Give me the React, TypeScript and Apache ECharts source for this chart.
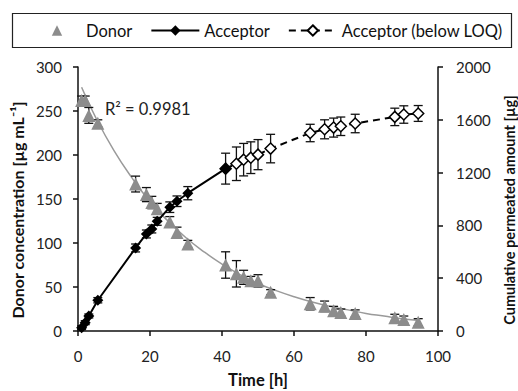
import React, { useEffect, useRef } from "react";
import * as echarts from "echarts";

const times = [1, 2, 3, 5.5, 16, 19, 20.5, 22, 25.5, 27.5, 30.5, 41, 44, 46, 48, 50, 53.5, 64.5, 68.5, 71, 73, 77, 88, 90.5, 94.5];
const donorValues = [262, 262, 245, 236, 167, 155, 146, 139, 124, 112, 99, 75, 65, 61, 57, 57, 44, 31, 28, 23, 21, 20, 15, 13, 10];
const donorErrors = [5, 5, 9, 4, 9, 8, 7, 6, 6, 6, 4, 15, 15, 8, 5, 7, 3, 7, 6, 5, 4, 4, 4, 4, 4];

const acceptorTimes = [1, 2, 3, 5.5, 16, 19, 20.5, 22, 25.5, 27.5, 30.5, 41];
const acceptorValues = [25, 63, 114, 233, 629, 735, 773, 831, 938, 983, 1044, 1230];
const acceptorErrors = [15, 15, 15, 20, 30, 30, 30, 30, 40, 40, 50, 117];

const loqTimes = [41, 44, 46, 48, 50, 53.5, 64.5, 68.5, 71, 73, 77, 88, 90.5, 94.5];
const loqValues = [1230, 1267, 1298, 1313, 1336, 1382, 1500, 1528, 1541, 1551, 1572, 1622, 1640, 1648];
const loqErrors = [0, 127, 123, 120, 114, 108, 66, 72, 72, 70, 70, 66, 66, 60];

const fitTimes = [1, 5, 10, 15, 20, 25, 30, 35, 40, 45, 50, 55, 60, 65, 70, 75, 80, 85, 90, 95];
const fitValues = [277, 242, 205, 174, 147, 125, 106, 90, 76, 64, 54, 46, 39, 33, 28, 24, 20, 17, 14, 12];

const legendNames = ["Donor", "Acceptor", "Acceptor (below LOQ)"];
const r2Label = "R² = 0.9981";

const FONT = "Lato";

function errorBar(params: any, api: any) {
  const x = api.value(0);
  const lo = api.value(1);
  const hi = api.value(2);
  if (hi - lo <= 0) return null;
  const p1 = api.coord([x, lo]);
  const p2 = api.coord([x, hi]);
  const hw = 4.5;
  const st = { stroke: "#111", lineWidth: 1.3 };
  return {
    type: "group",
    children: [
      { type: "line", shape: { x1: p1[0], y1: p1[1], x2: p2[0], y2: p2[1] }, style: st },
      { type: "line", shape: { x1: p1[0] - hw, y1: p1[1], x2: p1[0] + hw, y2: p1[1] }, style: st },
      { type: "line", shape: { x1: p2[0] - hw, y1: p2[1], x2: p2[0] + hw, y2: p2[1] }, style: st },
    ],
  };
}

export default function App() {
  const ref = useRef<HTMLDivElement>(null);
  useEffect(() => {
    if (!ref.current) return;
    const chart = echarts.init(ref.current, null, { renderer: "svg" });
    const axisLine = { show: true, lineStyle: { color: "#111", width: 1.5 } };
    const axisTick = { show: true, inside: false, length: 5, lineStyle: { color: "#111", width: 1.5 } };
    const axisLabel = { color: "#222", fontSize: 15, fontFamily: FONT, formatter: (v: number) => String(v) };
    const nameStyle = { color: "#111", fontWeight: "bold" as const, fontFamily: FONT };
    chart.setOption({
      animation: false,
      textStyle: { fontFamily: FONT },
      grid: { left: 78, right: 80, top: 67, bottom: 60, containLabel: false, outerBoundsMode: "none" },
      legend: {
        data: legendNames,
        left: 33,
        top: 22,
        padding: 0,
        itemWidth: 48,
        itemHeight: 13,
        itemGap: 18,
        textStyle: { color: "#111", fontSize: 16.5, fontFamily: FONT },
        selectedMode: false,
      },
      graphic: [
        {
          type: "rect",
          shape: { x: 12.5, y: 13.5, width: 499, height: 34 },
          style: { fill: "none", stroke: "#222", lineWidth: 1.2 },
          z: 10,
        },
        {
          type: "text",
          left: 105,
          top: 100,
          style: { text: r2Label, fill: "#222", fontSize: 16.5, fontFamily: FONT },
        },
      ],
      xAxis: {
        type: "value",
        min: 0,
        max: 100,
        interval: 20,
        name: "Time [h]",
        nameLocation: "middle",
        nameGap: 40,
        nameTextStyle: { ...nameStyle, fontSize: 16.5 },
        axisLine,
        axisTick,
        axisLabel: { ...axisLabel, margin: 17 },
        splitLine: { show: false },
      },
      yAxis: [
        {
          type: "value",
          min: 0,
          max: 300,
          interval: 50,
          name: "Donor concentration [µg mL⁻¹]",
          nameLocation: "middle",
          nameGap: 52,
          nameTextStyle: { ...nameStyle, fontSize: 16, padding: [0, 22, 0, 0] },
          axisLine,
          axisTick,
          axisLabel: { ...axisLabel, margin: 16 },
          splitLine: { show: false },
        },
        {
          type: "value",
          min: 0,
          max: 2000,
          interval: 400,
          position: "right",
          name: "Cumulative permeated amount [µg]",
          nameLocation: "middle",
          nameGap: 63,
          nameRotate: 90,
          nameTextStyle: { ...nameStyle, fontSize: 14.5, padding: [0, 22, 0, 0] },
          axisLine,
          axisTick,
          axisLabel: { ...axisLabel, margin: 18 },
          splitLine: { show: false },
        },
      ],
      series: [
        {
          name: "fit",
          type: "line",
          yAxisIndex: 0,
          smooth: true,
          showSymbol: false,
          data: fitTimes.map((t, i) => [t, fitValues[i]]),
          lineStyle: { color: "#9a9a9a", width: 1.5 },
          itemStyle: { color: "#9a9a9a" },
          z: 1,
        },
        {
          name: "donorErr",
          type: "custom",
          yAxisIndex: 0,
          renderItem: errorBar,
          encode: { x: 0, y: [1, 2] },
          data: times.map((t, i) => [t, donorValues[i] - donorErrors[i], donorValues[i] + donorErrors[i]]),
          z: 2,
        },
        {
          name: "accErr",
          type: "custom",
          yAxisIndex: 1,
          renderItem: errorBar,
          encode: { x: 0, y: [1, 2] },
          data: acceptorTimes.map((t, i) => [t, acceptorValues[i] - acceptorErrors[i], acceptorValues[i] + acceptorErrors[i]]),
          z: 2,
        },
        {
          name: "loqErr",
          type: "custom",
          yAxisIndex: 1,
          renderItem: errorBar,
          encode: { x: 0, y: [1, 2] },
          data: loqTimes.map((t, i) => [t, loqValues[i] - loqErrors[i], loqValues[i] + loqErrors[i]]),
          z: 2,
        },
        {
          name: "Donor",
          type: "line",
          yAxisIndex: 0,
          data: times.map((t, i) => [t, donorValues[i]]),
          symbol: "triangle",
          symbolSize: 13,
          showAllSymbol: true,
          lineStyle: { width: 0, opacity: 0 },
          itemStyle: { color: "#8c8c8c" },
          z: 5,
        },
        {
          name: "Acceptor (below LOQ)",
          type: "line",
          yAxisIndex: 1,
          data: loqTimes.map((t, i) => [t, loqValues[i]]),
          symbol: "diamond",
          symbolSize: 11,
          showAllSymbol: true,
          lineStyle: { color: "#000", width: 2, type: [7, 5] },
          itemStyle: { color: "#fff", borderColor: "#000", borderWidth: 1.5 },
          z: 4,
        },
        {
          name: "Acceptor",
          type: "line",
          yAxisIndex: 1,
          data: acceptorTimes.map((t, i) => [t, acceptorValues[i]]),
          symbol: "diamond",
          symbolSize: 11,
          showAllSymbol: true,
          lineStyle: { color: "#000", width: 2 },
          itemStyle: { color: "#000" },
          z: 6,
        },
      ],
    });
    return () => chart.dispose();
  }, []);
  return <div ref={ref} style={{ width: 518, height: 391, position: "absolute", left: 0, top: 0 }} />;
}
